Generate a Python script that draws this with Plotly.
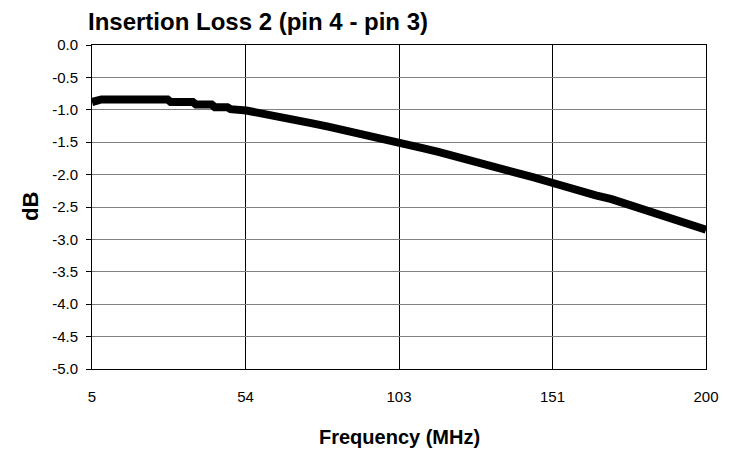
import plotly.graph_objects as go

# Frequency (MHz) and insertion loss (dB)
freq_mhz = [5, 6, 8, 29, 30, 37, 38, 43, 44, 48, 49, 54, 60, 65, 70, 75, 80, 85, 90, 95,
            100, 105, 110, 115, 120, 125, 130, 135, 140, 145, 150, 155, 160, 165, 170,
            175, 180, 185, 190, 195, 200]
loss_db = [-0.88, -0.86, -0.84, -0.84, -0.88, -0.88, -0.92, -0.92, -0.96, -0.96, -0.99,
           -1.01, -1.06, -1.11, -1.16, -1.21, -1.26, -1.31, -1.36, -1.41,
           -1.46, -1.52, -1.59, -1.65, -1.71, -1.78, -1.84, -1.91, -1.97, -2.04, -2.11,
           -2.19, -2.25, -2.32, -2.38, -2.46, -2.54, -2.62, -2.69, -2.77, -2.85]

x_tick_vals = [5, 53.75, 102.5, 151.25, 200]
x_tick_text = ["5", "54", "103", "151", "200"]
y_tick_vals = [0, -0.5, -1, -1.5, -2, -2.5, -3, -3.5, -4, -4.5, -5]
y_tick_text = ["0.0", "-0.5", "-1.0", "-1.5", "-2.0", "-2.5", "-3.0", "-3.5", "-4.0", "-4.5", "-5.0"]

title_text = "Insertion Loss 2 (pin 4 - pin 3)"
x_title = "Frequency (MHz)"
y_title = "dB"

FONT = "Liberation Sans, Arial, sans-serif"

# page body has an 8px default margin; compensate so the plot lands where the reference has it
OFF = 8
W, H = 736 - OFF, 453 - OFF
L, T, R, B = 92 - OFF, 45 - OFF, 30, 84
PW, PH = W - L - R, H - T - B

fig = go.Figure()
fig.add_trace(go.Scatter(
    x=freq_mhz, y=loss_db, mode="lines",
    line=dict(color="black", width=8),
    showlegend=False,
))

fig.update_layout(
    width=W, height=H,
    margin=dict(l=L, r=R, t=T, b=B),
    paper_bgcolor="white", plot_bgcolor="white",
    font=dict(family=FONT, color="black", size=15),
    title=dict(text=f"<b>{title_text}</b>", font=dict(family=FONT, size=24, color="black"),
               xref="container", x=(88 - OFF) / W, xanchor="left",
               yref="container", y=1 - (22 - OFF) / H, yanchor="middle"),
    showlegend=False,
)

fig.update_xaxes(
    range=[5, 200], tickvals=x_tick_vals, ticktext=x_tick_text,
    showgrid=True, gridcolor="black", gridwidth=1,
    showline=True, linecolor="black", linewidth=1, mirror=True,
    ticks="", ticklabelstandoff=14, tickfont=dict(size=15, family=FONT),
    zeroline=False,
)
fig.update_yaxes(
    range=[-5, 0], tickvals=y_tick_vals, ticktext=y_tick_text,
    showgrid=True, gridcolor="#808080", gridwidth=1,
    showline=True, linecolor="black", linewidth=1, mirror=True,
    ticks="outside", ticklen=5, tickcolor="black", ticklabelstandoff=5,
    tickfont=dict(size=15, family=FONT), zeroline=False,
)

fig.add_annotation(
    text=f"<b>{x_title}</b>", xref="paper", yref="paper",
    x=0.5, y=-(437 - 369) / PH, xanchor="center", yanchor="middle",
    showarrow=False, font=dict(family=FONT, size=20, color="black"),
)
fig.add_annotation(
    text=f"<b>{y_title}</b>", xref="paper", yref="paper",
    x=-(92 - 30) / PW, y=0.5, xanchor="center", yanchor="middle",
    textangle=-90, showarrow=False, font=dict(family=FONT, size=22, color="black"),
)

fig.write_html("out.html")
